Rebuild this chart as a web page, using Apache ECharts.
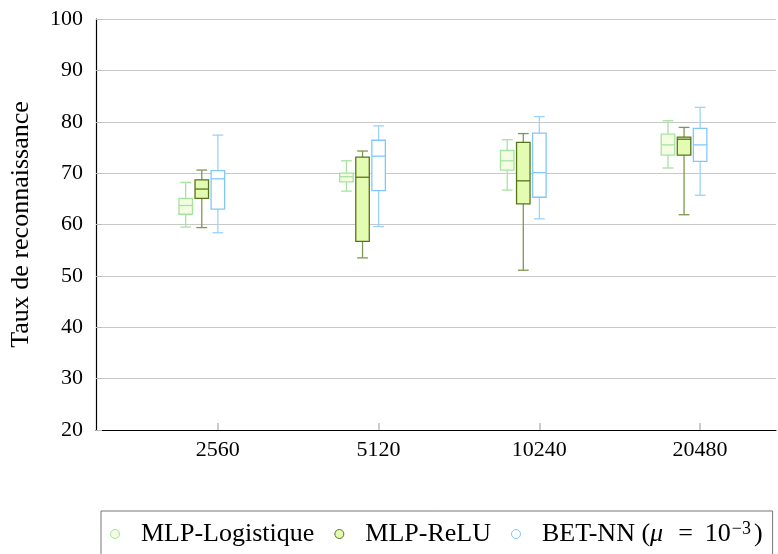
<!DOCTYPE html>
<html>
<head>
<meta charset="utf-8">
<script src="https://cdn.jsdelivr.net/npm/echarts@6/dist/echarts.min.js"></script>
<style>html,body{margin:0;padding:0;background:#fff}#c{width:778px;height:554px}</style>
</head>
<body>
<div id="c"></div>
<script>
// Categories (tick labels) and their axis positions
var categories = ['2560', '5120', '10240', '20480'];
var categoryPos = [1, 2, 3, 4];
// Box data per series: [min, Q1, median, Q3, max]
var mlpLogistique = [
  [59.5, 62.0, 63.7, 65.1, 68.2],
  [66.5, 68.3, 69.3, 70.0, 72.4],
  [66.7, 70.6, 72.4, 74.4, 76.5],
  [71.0, 73.5, 75.5, 77.6, 80.2]
];
var mlpRelu = [
  [59.4, 65.1, 66.9, 68.7, 70.6],
  [53.5, 56.7, 69.2, 73.1, 74.3],
  [51.1, 64.0, 68.5, 76.0, 77.7],
  [61.9, 73.5, 76.6, 77.0, 78.9]
];
var betNN = [
  [58.4, 63.0, 68.9, 70.5, 77.4],
  [59.6, 66.6, 73.3, 76.4, 79.2],
  [61.1, 65.3, 70.1, 77.8, 81.0],
  [65.7, 72.3, 75.5, 78.7, 82.8]
];
var seriesNames = ['MLP-Logistique', 'MLP-ReLU', 'BET-NN (\u03bc = 10\u207b\u00b3)'];
var seriesOffsets = [-0.2, -0.1, 0];

var styles = [
  {stroke: '#a6e3a0', fill: '#f4fde2', whisker: '#a6e3a0'},
  {stroke: '#56741a', fill: '#e4fcb2', whisker: '#7f9750'},
  {stroke: '#80c8fb', fill: '#ffffff', whisker: '#9ad3fc'}
];
var BOX_W = 0.084;
var FONT = 'Liberation Serif';

function makeData(arr, off) {
  return arr.map(function (d, i) { return [categoryPos[i] + off].concat(d); });
}

function renderer(st) {
  return function (params, api) {
    var x = api.value(0);
    var lo = api.coord([x, api.value(1)]);
    var q1 = api.coord([x, api.value(2)]);
    var md = api.coord([x, api.value(3)]);
    var q3 = api.coord([x, api.value(4)]);
    var hi = api.coord([x, api.value(5)]);
    var w = api.size([BOX_W, 0])[0];
    var cw = w * 0.8;
    var cx = lo[0];
    var ws = {stroke: st.whisker, lineWidth: 1.3, fill: null};
    return {
      type: 'group',
      children: [
        {type: 'line', shape: {x1: cx, y1: q1[1], x2: cx, y2: lo[1]}, style: ws},
        {type: 'line', shape: {x1: cx, y1: q3[1], x2: cx, y2: hi[1]}, style: ws},
        {type: 'line', shape: {x1: cx - cw / 2, y1: lo[1], x2: cx + cw / 2, y2: lo[1]}, style: ws},
        {type: 'line', shape: {x1: cx - cw / 2, y1: hi[1], x2: cx + cw / 2, y2: hi[1]}, style: ws},
        {type: 'rect', shape: {x: cx - w / 2, y: q3[1], width: w, height: q1[1] - q3[1]},
          style: {fill: st.fill, stroke: st.stroke, lineWidth: 1.3}},
        {type: 'line', shape: {x1: cx - w / 2, y1: md[1], x2: cx + w / 2, y2: md[1]},
          style: {stroke: st.stroke, lineWidth: 1.3}}
      ]
    };
  };
}

var series = [mlpLogistique, mlpRelu, betNN].map(function (arr, k) {
  return {
    name: seriesNames[k],
    type: 'custom',
    renderItem: renderer(styles[k]),
    encode: {x: 0, y: [1, 2, 3, 4, 5]},
    itemStyle: {color: styles[k].fill, borderColor: styles[k].stroke, borderWidth: 1},
    data: makeData(arr, seriesOffsets[k]),
    z: 3
  };
});

var chart = echarts.init(document.getElementById('c'), null, {renderer: 'canvas'});
chart.setOption({
  animation: false,
  backgroundColor: '#ffffff',
  grid: {left: 94, right: 2, top: 19, bottom: 124, containLabel: false},
  xAxis: {
    type: 'value',
    min: 0.242,
    max: 4.472,
    splitLine: {show: false},
    axisLine: {show: true, lineStyle: {color: '#000', width: 1.2}},
    axisTick: {show: true, inside: true, length: 7, customValues: categoryPos, lineStyle: {color: '#bbbbbb', width: 1.5}},
    axisLabel: {
      show: true, customValues: categoryPos, margin: 9,
      fontFamily: FONT, fontSize: 22, color: '#000',
      formatter: function (v) { return categories[Math.round(v) - 1]; }
    }
  },
  yAxis: {
    type: 'value',
    min: 20, max: 100, interval: 10,
    name: 'Taux de reconnaissance',
    nameLocation: 'middle',
    nameGap: 62,
    nameTextStyle: {fontFamily: FONT, fontSize: 26, color: '#000'},
    axisLine: {show: true, lineStyle: {color: '#000', width: 1.2}},
    axisTick: {show: true, inside: true, length: 6, lineStyle: {color: '#bbbbbb'}},
    axisLabel: {fontFamily: FONT, fontSize: 22, color: '#000', margin: 13},
    splitLine: {show: true, lineStyle: {color: '#c8c8c8', width: 1}}
  },
  legend: {
    left: 101, top: 511,
    orient: 'horizontal',
    padding: [9, 10, 20, 9],
    borderColor: '#777', borderWidth: 1,
    itemGap: 20,
    itemWidth: 12, itemHeight: 9,
    icon: 'circle',
    data: seriesNames.map(function (n, k) {
      return {name: n, itemStyle: {color: styles[k].fill, borderColor: styles[k].stroke, borderWidth: 1}};
    }),
    formatter: function (n) {
      if (n.indexOf('BET') === 0) return '{t|BET-NN (}{i|\u03bc}{e|=}{m|10}{s|\u22123}{m|)}';
      return '{t|' + n + '}';
    },
    textStyle: {
      fontFamily: FONT, fontSize: 26, color: '#000',
      rich: {
        t: {fontFamily: FONT, fontSize: 26, color: '#000', padding: [0, 0, 0, 15]},
        m: {fontFamily: FONT, fontSize: 26, color: '#000'},
        e: {fontFamily: FONT, fontSize: 26, color: '#000', padding: [0, 12, 0, 12]},
        i: {fontFamily: FONT, fontSize: 26, fontStyle: 'italic', color: '#000', padding: [0, 3, 0, 0]},
        s: {fontFamily: FONT, fontSize: 18, color: '#000', verticalAlign: 'top', padding: [0, 3, 10, 1]}
      }
    }
  },
  series: series
});
</script>
</body>
</html>
